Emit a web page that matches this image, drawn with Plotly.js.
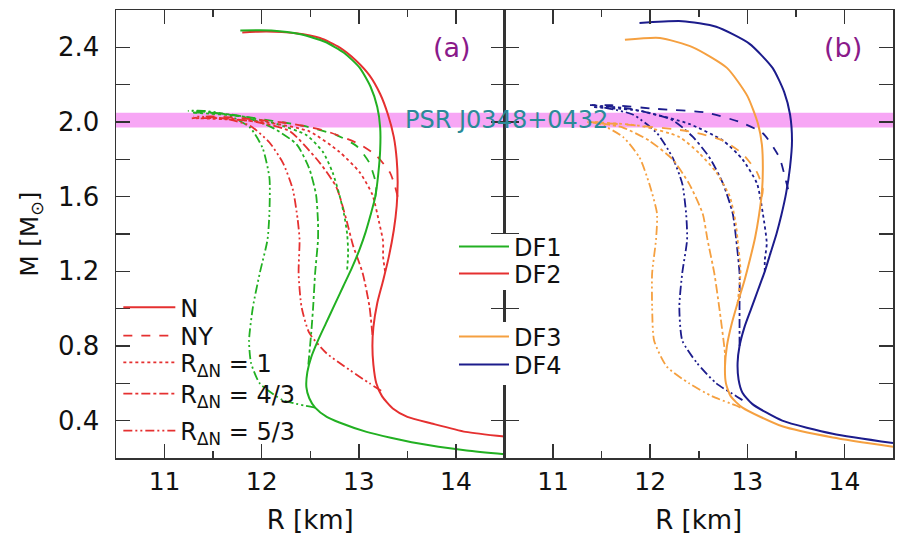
<!DOCTYPE html>
<html>
<head>
<meta charset="utf-8">
<script src="https://cdn.plot.ly/plotly-3.0.1.min.js"></script>
<style>html,body{margin:0;padding:0;background:#fff;}#chart{width:904px;height:541px;}</style>
</head>
<body>
<div id="chart"></div>
<script>
// ---------- Panel (a): DF1 (green) and DF2 (red) ----------
const a_DF2_N_R  = [14.50, 14.10, 13.75, 13.50, 13.35, 13.24, 13.18, 13.15, 13.14, 13.15, 13.19, 13.25, 13.31, 13.36, 13.39, 13.40, 13.39, 13.36, 13.30, 13.22, 13.11, 12.97, 12.80, 12.60, 12.35, 12.05, 11.80];
const a_DF2_N_M  = [0.315, 0.34, 0.385, 0.42, 0.465, 0.53, 0.60, 0.70, 0.80, 0.90, 1.03, 1.15, 1.28, 1.42, 1.55, 1.68, 1.80, 1.92, 2.04, 2.15, 2.25, 2.33, 2.40, 2.45, 2.475, 2.485, 2.48];
const a_DF1_N_R  = [14.50, 14.11, 13.59, 13.08, 12.80, 12.67, 12.55, 12.49, 12.46, 12.47, 12.51, 12.58, 12.66, 12.75, 12.84, 12.93, 13.01, 13.07, 13.12, 13.17, 13.20, 13.22, 13.22, 13.19, 13.12, 13.01, 12.85, 12.65, 12.40, 12.10, 11.78];
const a_DF1_N_M  = [0.22, 0.24, 0.28, 0.34, 0.39, 0.42, 0.47, 0.52, 0.58, 0.66, 0.74, 0.83, 0.92, 1.02, 1.12, 1.22, 1.32, 1.41, 1.50, 1.60, 1.72, 1.85, 1.97, 2.08, 2.19, 2.29, 2.37, 2.43, 2.47, 2.49, 2.49];

const a_DF2_NY_R = [13.40, 13.37, 13.32, 13.18, 13.01, 12.67, 12.32, 11.80, 11.46, 11.28];
const a_DF2_NY_M = [1.60, 1.66, 1.73, 1.82, 1.88, 1.95, 1.99, 2.02, 2.03, 2.02];
const a_DF1_NY_R = [13.17, 13.18, 13.11, 12.98, 12.77, 12.42, 11.80, 11.46, 11.26];
const a_DF1_NY_M = [1.60, 1.66, 1.78, 1.87, 1.93, 1.98, 2.03, 2.05, 2.05];

const a_DF2_R1_R = [13.27, 13.25, 13.25, 13.21, 13.14, 13.01, 12.80, 12.49, 12.15, 11.80, 11.35];
const a_DF2_R1_M = [1.20, 1.28, 1.36, 1.46, 1.61, 1.73, 1.84, 1.95, 1.99, 2.01, 2.02];
const a_DF1_R1_R = [12.88, 12.89, 12.88, 12.85, 12.80, 12.73, 12.63, 12.46, 12.15, 11.80, 11.30];
const a_DF1_R1_M = [1.21, 1.30, 1.40, 1.50, 1.61, 1.73, 1.84, 1.93, 1.99, 2.03, 2.05];

const a_DF2_R43_R = [13.14, 13.11, 13.04, 12.94, 12.87, 12.77, 12.60, 12.29, 11.95, 11.60, 11.30];
const a_DF2_R43_M = [0.86, 1.01, 1.19, 1.34, 1.48, 1.65, 1.78, 1.95, 2.00, 2.02, 2.02];
const a_DF1_R43_R = [12.48, 12.51, 12.53, 12.55, 12.58, 12.58, 12.56, 12.49, 12.36, 12.11, 11.80, 11.28];
const a_DF1_R43_M = [0.70, 0.87, 1.01, 1.19, 1.37, 1.46, 1.61, 1.75, 1.88, 1.97, 2.03, 2.06];

const a_DF2_R53_R = [13.23, 13.11, 12.91, 12.67, 12.49, 12.41, 12.38, 12.39, 12.37, 12.32, 12.22, 12.08, 11.88, 11.60, 11.30];
const a_DF2_R53_M = [0.56, 0.60, 0.67, 0.76, 0.87, 1.01, 1.19, 1.37, 1.48, 1.64, 1.78, 1.89, 1.98, 2.02, 2.03];
const a_DF1_R53_R = [12.55, 12.22, 11.98, 11.89, 11.87, 11.91, 11.98, 12.06, 12.08, 12.08, 12.01, 11.88, 11.64, 11.40, 11.24];
const a_DF1_R53_M = [0.47, 0.51, 0.60, 0.71, 0.83, 1.01, 1.19, 1.37, 1.52, 1.70, 1.86, 1.97, 2.04, 2.06, 2.06];

// ---------- Panel (b): DF3 (orange) and DF4 (blue) ----------
const b_DF4_N_R  = [14.50, 13.88, 13.36, 13.05, 12.95, 12.91, 12.90, 12.92, 12.97, 13.04, 13.11, 13.18, 13.24, 13.30, 13.35, 13.40, 13.44, 13.46, 13.44, 13.38, 13.26, 13.02, 12.68, 12.33, 11.89];
const b_DF4_N_M  = [0.28, 0.33, 0.40, 0.49, 0.55, 0.62, 0.71, 0.80, 0.90, 1.00, 1.10, 1.20, 1.30, 1.40, 1.50, 1.62, 1.76, 1.90, 2.04, 2.16, 2.29, 2.42, 2.51, 2.54, 2.53];
const b_DF3_N_R  = [14.50, 13.88, 13.36, 12.95, 12.83, 12.78, 12.77, 12.79, 12.84, 12.90, 12.97, 13.03, 13.08, 13.12, 13.15, 13.16, 13.15, 13.11, 13.00, 12.79, 12.44, 12.10, 11.74];
const b_DF3_N_M  = [0.26, 0.31, 0.37, 0.47, 0.53, 0.60, 0.69, 0.80, 0.92, 1.03, 1.15, 1.27, 1.38, 1.50, 1.62, 1.75, 1.88, 1.99, 2.14, 2.29, 2.40, 2.45, 2.44];

const b_DF4_NY_R = [13.42, 13.40, 13.33, 13.16, 12.92, 12.58, 12.07, 11.60, 11.38];
const b_DF4_NY_M = [1.64, 1.68, 1.81, 1.94, 2.00, 2.05, 2.07, 2.09, 2.09];
const b_DF3_NY_R = [13.15, 13.16, 13.10, 12.95, 12.75, 12.40, 11.89, 11.38];
const b_DF3_NY_M = [1.60, 1.64, 1.73, 1.83, 1.90, 1.95, 1.98, 2.00];

const b_DF4_R1_R = [13.18, 13.18, 13.20, 13.16, 13.10, 12.95, 12.75, 12.40, 11.89, 11.40];
const b_DF4_R1_M = [1.20, 1.26, 1.35, 1.51, 1.67, 1.80, 1.90, 1.99, 2.06, 2.08];
const b_DF3_R1_R = [12.90, 12.93, 12.90, 12.88, 12.82, 12.68, 12.51, 12.30, 11.89, 11.40];
const b_DF3_R1_M = [1.03, 1.20, 1.37, 1.46, 1.60, 1.73, 1.83, 1.92, 1.98, 2.00];

const b_DF4_R43_R = [12.92, 12.92, 12.92, 12.92, 12.89, 12.85, 12.75, 12.61, 12.44, 12.23, 11.80, 11.40];
const b_DF4_R43_M = [0.80, 0.87, 1.01, 1.19, 1.35, 1.51, 1.67, 1.81, 1.92, 2.01, 2.07, 2.09];
const b_DF3_R43_R = [12.77, 12.77, 12.71, 12.66, 12.59, 12.54, 12.40, 12.23, 11.99, 11.72, 11.40];
const b_DF3_R43_M = [0.70, 0.76, 1.01, 1.19, 1.37, 1.51, 1.67, 1.80, 1.90, 1.97, 2.00];

const b_DF4_R53_R = [12.95, 12.89, 12.68, 12.48, 12.33, 12.30, 12.33, 12.38, 12.37, 12.33, 12.23, 12.07, 11.82, 11.40];
const b_DF4_R53_M = [0.51, 0.53, 0.60, 0.71, 0.83, 1.01, 1.19, 1.37, 1.51, 1.67, 1.81, 1.94, 2.04, 2.09];
const b_DF3_R53_R = [12.93, 12.89, 12.64, 12.40, 12.17, 12.04, 12.02, 12.02, 12.06, 12.07, 11.99, 11.89, 11.72, 11.48, 11.35];
const b_DF3_R53_M = [0.47, 0.48, 0.53, 0.60, 0.69, 0.83, 1.01, 1.19, 1.37, 1.51, 1.67, 1.81, 1.92, 1.99, 2.00];

// ---------- labels ----------
const variantNames = ['N', 'NY', 'R<sub>ΔN</sub> = 1', 'R<sub>ΔN</sub> = 4/3', 'R<sub>ΔN</sub> = 5/3'];
const familyNames = ['DF1', 'DF2', 'DF3', 'DF4'];
const psrBand = [1.97, 2.05];
const psrLabel = 'PSR J0348+0432';
const panelLabels = ['(a)', '(b)'];
const xTitle = 'R [km]';
const yTitle = 'M [M<sub>⊙</sub>]';

// ---------- styles ----------
const COL = {DF1: '#22b022', DF2: '#e53030', DF3: '#f5a040', DF4: '#1c1c8c'};
const DASH = ['solid', 'dash', 'dot', 'dashdot', '9px,3px,2px,3px,2px,3px'];
const W = [2, 1.8, 1.8, 1.8, 1.8];

function tr(R, M, fam, v, xa, ya) {
  return {x: R, y: M, xaxis: xa, yaxis: ya, type: 'scatter', mode: 'lines',
    line: {color: COL[fam], width: W[v], dash: DASH[v], shape: 'spline', smoothing: 0.6},
    showlegend: false, hoverinfo: 'skip'};
}

const traces = [
  tr(a_DF1_R53_R, a_DF1_R53_M, 'DF1', 4, 'x', 'y'),
  tr(a_DF2_R53_R, a_DF2_R53_M, 'DF2', 4, 'x', 'y'),
  tr(a_DF1_R43_R, a_DF1_R43_M, 'DF1', 3, 'x', 'y'),
  tr(a_DF2_R43_R, a_DF2_R43_M, 'DF2', 3, 'x', 'y'),
  tr(a_DF1_R1_R, a_DF1_R1_M, 'DF1', 2, 'x', 'y'),
  tr(a_DF2_R1_R, a_DF2_R1_M, 'DF2', 2, 'x', 'y'),
  tr(a_DF1_NY_R, a_DF1_NY_M, 'DF1', 1, 'x', 'y'),
  tr(a_DF2_NY_R, a_DF2_NY_M, 'DF2', 1, 'x', 'y'),
  tr(a_DF2_N_R, a_DF2_N_M, 'DF2', 0, 'x', 'y'),
  tr(a_DF1_N_R, a_DF1_N_M, 'DF1', 0, 'x', 'y'),

  tr(b_DF3_R53_R, b_DF3_R53_M, 'DF3', 4, 'x2', 'y2'),
  tr(b_DF4_R53_R, b_DF4_R53_M, 'DF4', 4, 'x2', 'y2'),
  tr(b_DF3_R43_R, b_DF3_R43_M, 'DF3', 3, 'x2', 'y2'),
  tr(b_DF4_R43_R, b_DF4_R43_M, 'DF4', 3, 'x2', 'y2'),
  tr(b_DF3_R1_R, b_DF3_R1_M, 'DF3', 2, 'x2', 'y2'),
  tr(b_DF4_R1_R, b_DF4_R1_M, 'DF4', 2, 'x2', 'y2'),
  tr(b_DF3_NY_R, b_DF3_NY_M, 'DF3', 1, 'x2', 'y2'),
  tr(b_DF4_NY_R, b_DF4_NY_M, 'DF4', 1, 'x2', 'y2'),
  tr(b_DF3_N_R, b_DF3_N_M, 'DF3', 0, 'x2', 'y2'),
  tr(b_DF4_N_R, b_DF4_N_M, 'DF4', 0, 'x2', 'y2')
];

const FONT = 'DejaVu Sans, Verdana, sans-serif';
const legendFont = {family: FONT, size: 24, color: '#111'};

// one legend per entry so the entries can sit exactly where the reference has them
const leftLegendY = [0.3355, 0.2723, 0.2127, 0.1429, 0.0603];
const midLegendY = [0.4710, 0.4107, 0.2701, 0.2076];
const legendDefs = {};
let legIdx = 1;
function legId() { const id = legIdx === 1 ? 'legend' : 'legend' + legIdx; legIdx++; return id; }

variantNames.forEach((nm, i) => {
  const id = legId();
  traces.push({x: [null], y: [null], type: 'scatter', mode: 'lines', name: nm,
    line: {color: COL.DF2, width: W[i], dash: DASH[i]}, legend: id, showlegend: true});
  legendDefs[id] = {x: 0.003, y: leftLegendY[i], xanchor: 'left', yanchor: 'middle',
    bgcolor: 'rgba(0,0,0,0)', font: legendFont, itemwidth: 52, borderwidth: 0};
});
familyNames.forEach((nm, i) => {
  const id = legId();
  traces.push({x: [null], y: [null], type: 'scatter', mode: 'lines', name: nm,
    line: {color: COL[nm], width: 2}, legend: id, showlegend: true});
  legendDefs[id] = {x: 0.435, y: midLegendY[i], xanchor: 'left', yanchor: 'middle',
    bgcolor: 'rgba(0,0,0,0)', font: legendFont, itemwidth: 50, borderwidth: 0};
});

const axisLine = {showline: true, linecolor: '#333', linewidth: 1.5, mirror: 'ticks',
  ticks: 'inside', tickcolor: '#333', tickwidth: 1.5, showgrid: false, zeroline: false};

const xCommon = Object.assign({}, axisLine, {range: [10.5, 14.5], tick0: 11, dtick: 1, ticklen: 14,
  minor: {dtick: 0.5, tick0: 10.5, ticklen: 7, ticks: 'inside', tickcolor: '#333', tickwidth: 1.5},
  tickfont: {family: FONT, size: 25, color: '#111'},
  title: {text: xTitle, font: {family: FONT, size: 26, color: '#111'}, standoff: 16}});

const yCommon = Object.assign({}, axisLine, {range: [0.2, 2.6], tick0: 0.4, dtick: 0.4, ticklen: 14,
  tickformat: '.1f',
  minor: {dtick: 0.2, tick0: 0.2, ticklen: 14, ticks: 'inside', tickcolor: '#333', tickwidth: 1.5}});

const layout = Object.assign({
  width: 904, height: 541,
  margin: {l: 116, r: 11, t: 10, b: 83},
  paper_bgcolor: '#fff', plot_bgcolor: '#fff',
  xaxis: Object.assign({}, xCommon, {domain: [0, 0.5], anchor: 'y'}),
  xaxis2: Object.assign({}, xCommon, {domain: [0.5, 1], anchor: 'y2'}),
  yaxis: Object.assign({}, yCommon, {anchor: 'x',
    tickfont: {family: FONT, size: 26, color: '#111'}, ticklabelstandoff: 10,
    title: {text: yTitle, font: {family: FONT, size: 25, color: '#111'}, standoff: 12}}),
  yaxis2: Object.assign({}, yCommon, {anchor: 'x2', matches: 'y', showticklabels: false}),
  shapes: [
    {type: 'rect', xref: 'paper', yref: 'y', x0: 0, x1: 1, y0: psrBand[0], y1: psrBand[1],
      fillcolor: '#f7a6f5', line: {width: 0}, layer: 'below'},
    // white backing of the DF legend boxes (they hide the shared middle axis line)
    {type: 'rect', xref: 'paper', yref: 'paper', x0: 0.436, x1: 0.59, y0: 0.375, y1: 0.5,
      fillcolor: '#fff', line: {width: 0}, layer: 'above'},
    {type: 'rect', xref: 'paper', yref: 'paper', x0: 0.436, x1: 0.59, y0: 0.163, y1: 0.3036,
      fillcolor: '#fff', line: {width: 0}, layer: 'above'}
  ],
  annotations: [
    {xref: 'paper', yref: 'y', x: 0.503, y: 2.012, text: psrLabel, showarrow: false,
      font: {family: FONT, size: 24, color: '#2a8a98'}, xanchor: 'center', yanchor: 'middle'},
    {xref: 'x', yref: 'y', x: 13.955, y: 2.40, text: panelLabels[0], showarrow: false,
      font: {family: FONT, size: 27, color: '#8a1a8a'}},
    {xref: 'x2', yref: 'y2', x: 13.98, y: 2.40, text: panelLabels[1], showarrow: false,
      font: {family: FONT, size: 27, color: '#8a1a8a'}}
  ]
}, legendDefs);

Plotly.newPlot('chart', traces, layout, {displayModeBar: false, staticPlot: true});
</script>
</body>
</html>
